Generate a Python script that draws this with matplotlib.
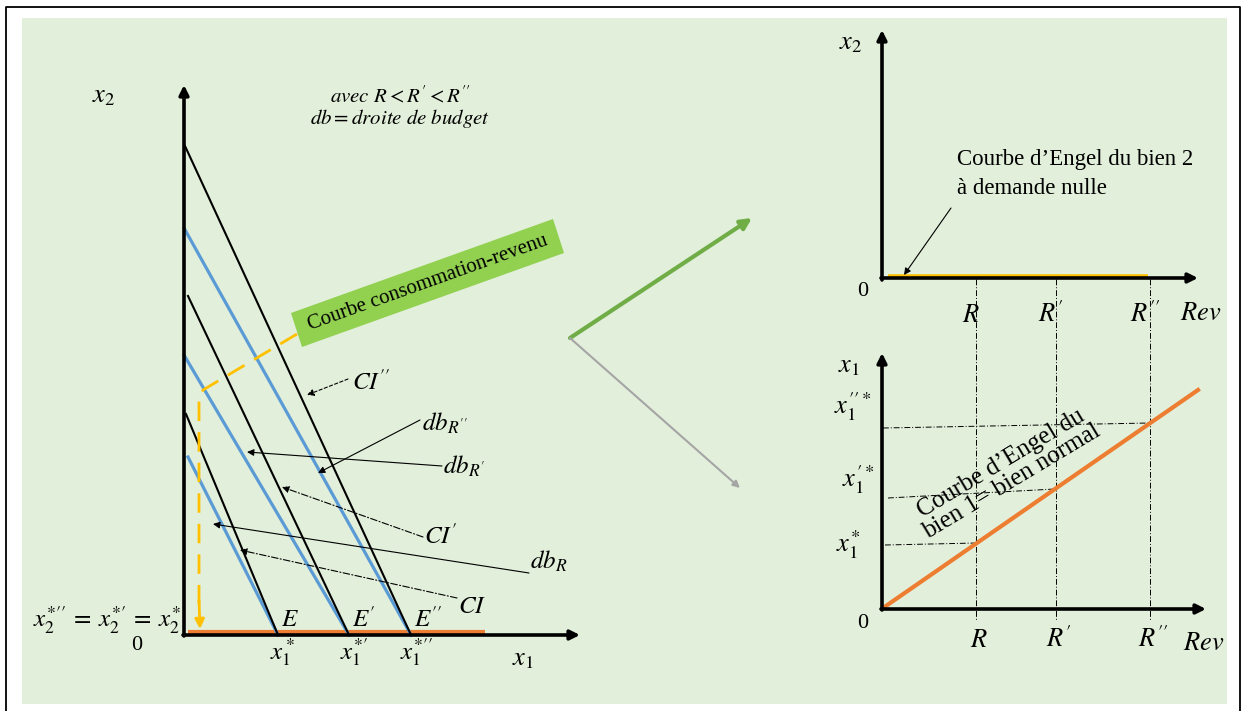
import matplotlib.pyplot as plt
from matplotlib.patches import Rectangle, Polygon

plt.rcParams['mathtext.fontset'] = 'stix'
SERIF = 'Liberation Serif'

# --- diagram geometry (canvas pixels, y pointing down) ---
# left panel: origin of the (x1, x2) axes
L_X0, L_Y0 = 184, 635
# equilibrium points E, E', E'' on the x1 axis
eq_x = [278, 349, 411]
# where each indifference line (CI) and budget line (db) meets the x2 axis
ci_start = [(186, 414), (188, 296), (185, 146)]
db_start = [(188, 457), (184, 355), (184, 228)]
eq_names = ["$E$", "$E'$", "$E''$"]
x1_names = ["$x_1^*$", "$x_1^{*\\prime}$", "$x_1^{*\\prime\\prime}$"]

# right panels: incomes R, R', R'' on the Rev axis
rev_x = [976, 1056, 1150]
rev_names = ["$R$", "$R'$", "$R''$"]
# Engel curve of good 1
engel1 = [(883, 608), (1198, 390)]
# x1 levels read on the vertical axis and where they meet the Engel curve
x1_lines = [((885, 545), (977, 543)), ((888, 498), (1055, 489)), ((883, 428), (1150, 423))]

W, H = 1242, 711
fig = plt.figure(figsize=(W / 100, H / 100), dpi=100)
ax = fig.add_axes([0, 0, 1, 1])
ax.set_xlim(0, W)
ax.set_ylim(H, 0)
ax.axis('off')

# frame and background
ax.plot([6, 6, 1240, 1240], [H + 5, 7, 7, H + 5], color='black', lw=1.3)
ax.add_patch(Rectangle((22, 18), 1205, 686, fc='#E2EFDA', ec='none'))


def arrow(p0, p1, color='black', lw=0.8, ls='-', head=10):
    ax.annotate('', xy=p1, xytext=p0,
                arrowprops=dict(arrowstyle='-|>', color=color, lw=lw, ls=ls,
                                mutation_scale=head, shrinkA=0, shrinkB=0))


def mtext(x, y, s, size=18, ha='center', **kw):
    ax.text(x, y, s, fontsize=size, ha=ha, va='center', **kw)


# ---------------- left panel ----------------
ax.plot([L_X0 + 4, 485], [L_Y0 - 3, L_Y0 - 3], color='#ED7D31', lw=3, solid_capstyle='butt')
arrow((L_X0, L_Y0 + 1), (L_X0, 85), lw=2.6, head=14)
arrow((L_X0 - 1, L_Y0), (580, L_Y0), lw=2.6, head=14)

for (sx, sy), ex in zip(db_start, eq_x):
    ax.plot([sx, ex], [sy, L_Y0], color='#5B9BD5', lw=2.3)
for (sx, sy), ex in zip(ci_start, eq_x):
    ax.plot([sx, ex], [sy, L_Y0], color='black', lw=1.5)

# consumption-income path (dashed, yellow)
ax.plot([297, 203, 199, 199], [334, 390, 396, 610], color='#FFC000', lw=2,
        dashes=(7, 4))
arrow((199, 600), (200, 629), color='#FFC000', lw=2, head=14)

# green label box
ax.add_patch(Polygon([(291, 313), (553, 219), (564, 253), (302, 347)],
                     closed=True, fc='#92D050', ec='none'))
ax.text(428, 283, 'Courbe consommation-revenu', family=SERIF, fontsize=15,
        rotation=19.7, ha='center', va='center', rotation_mode='anchor')

# annotations
dashdot = (0, (6, 2, 1, 2))
arrow((348, 379), (307, 395), ls=(0, (3, 2)))
mtext(352, 382, "$CI''$", ha='left')
arrow((420, 420), (318, 473))
mtext(422, 423, "$db_{R''}$", ha='left')
arrow((442, 466), (247, 452))
mtext(443, 466, "$db_{R'}$", ha='left')
arrow((423, 537), (282, 487), ls=dashdot)
mtext(424, 536, "$CI'$", ha='left')
arrow((529, 573), (213, 524))
mtext(530, 561, "$db_R$", ha='left')
arrow((457, 598), (240, 550), ls=dashdot)
mtext(458, 606, "$CI$", ha='left')

for ex, en, xn in zip(eq_x, eq_names, x1_names):
    mtext(ex + 3, 619, en, ha='left')
    mtext(ex + 5, 652, xn)

mtext(104, 95, "$x_2$", size=19)
mtext(523, 658, "$x_1$", size=19)
ax.text(137, 646, '0', family=SERIF, fontsize=16, ha='center', va='center')
mtext(181, 620, "$x_2^{*\\prime\\prime}\\:=\\:x_2^{*\\prime}\\:=\\:x_2^{*}$",
      size=18, ha='right')
mtext(400, 96, "$avec\\ R < R' < R''$", size=15)
mtext(400, 118, "$db = droite\\ de\\ budget$", size=15)

# ---------------- connecting arrows ----------------
arrow((570, 338), (752, 218), color='#70AD47', lw=3, head=16)
arrow((570, 338), (740, 488), color='#A5A5A5', lw=1.5, head=10)

# ---------------- top-right panel ----------------
arrow((882, 280), (882, 30), lw=2.6, head=14)
arrow((881, 278), (1198, 278), lw=2.6, head=14)
ax.plot([888, 1148], [276, 276], color='#FFC000', lw=2.6, solid_capstyle='butt')
for rx in rev_x:
    ax.plot([rx, rx], [279, 620], color='black', lw=0.7, ls=dashdot)
mtext(851, 42, "$x_2$", size=19)
ax.text(863, 292, '0', family=SERIF, fontsize=16, ha='center', va='center')
for rx, rn in zip(rev_x, rev_names):
    mtext(rx - 5, 315, rn, size=19)
mtext(1201, 313, "$Rev$", size=19)
ax.text(957, 160, "Courbe d’Engel du bien 2", family=SERIF, fontsize=16.5,
        ha='left', va='center')
ax.text(957, 188, "à demande nulle", family=SERIF, fontsize=16.5,
        ha='left', va='center')
arrow((951, 208), (904, 275))

# ---------------- bottom-right panel ----------------
arrow((882, 610), (882, 353), lw=2.6, head=14)
arrow((881, 609), (1206, 609), lw=2.6, head=14)
for (p0, p1) in x1_lines:
    ax.plot([p0[0], p1[0]], [p0[1], p1[1]], color='black', lw=0.7, ls=dashdot)
ax.plot([engel1[0][0], engel1[1][0]], [engel1[0][1], engel1[1][1]],
        color='#ED7D31', lw=3)
mtext(849, 365, "$x_1$", size=19)
mtext(853, 407, "$x_1^{\\prime\\prime *}$", size=19)
mtext(858, 480, "$x_1^{\\prime *}$", size=19)
mtext(848, 545, "$x_1^{*}$", size=19)
ax.text(863, 624, '0', family=SERIF, fontsize=16, ha='center', va='center')
for rx, rn in zip(rev_x, rev_names):
    mtext(rx + 3, 640, rn, size=19)
mtext(1204, 643, "$Rev$", size=19)
ax.text(1006, 473, "Courbe d’Engel du\nbien 1= bien normal", family=SERIF,
        fontsize=18, rotation=31, ha='center', va='center',
        multialignment='center', rotation_mode='anchor', linespacing=0.95)

fig.savefig('out.png', dpi=100)
